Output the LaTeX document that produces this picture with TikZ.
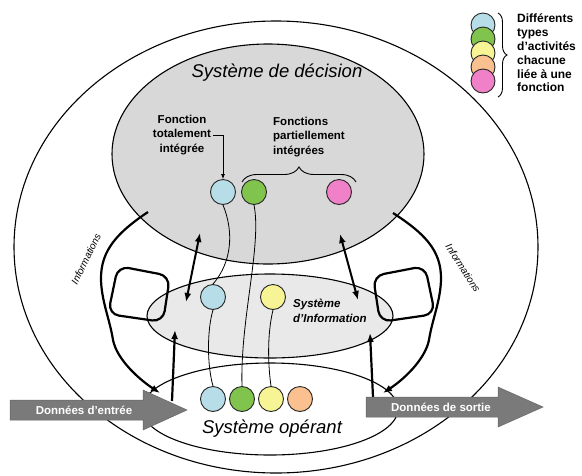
\documentclass[tikz,border=0pt]{standalone}
\usepackage{fontspec}
\setmainfont{Liberation Sans}
\usetikzlibrary{arrows.meta,decorations.pathreplacing,shapes.geometric}

\definecolor{decgray}{RGB}{216,216,216}
\definecolor{infogray}{RGB}{233,233,233}
\definecolor{cblue}{RGB}{183,222,232}
\definecolor{cgreen}{RGB}{128,196,78}
\definecolor{cyellow}{RGB}{247,244,150}
\definecolor{corange}{RGB}{250,192,143}
\definecolor{cpink}{RGB}{240,128,200}
\definecolor{flowgray}{RGB}{122,122,122}

\begin{document}
\begin{tikzpicture}[x=1pt,y=-1pt,
  ring/.style={draw=black, line width=1.1pt, ellipse, inner sep=0pt},
  act/.style={circle, draw=black!85, line width=0.9pt, minimum size=25pt, inner sep=0pt},
  lgd/.style={circle, draw=black!85, line width=0.9pt, minimum size=24pt, inner sep=0pt},
  link/.style={draw=black, line width=0.8pt},
  ptr/.style={draw=black, line width=0.8pt, -{Latex[length=5pt,width=4pt]}},
  flow/.style={draw=black, line width=2.2pt, -{Latex[length=9pt,width=7pt]}},
  biflow/.style={draw=black, line width=2pt, {Latex[length=9pt,width=7pt]}-{Latex[length=9pt,width=7pt]}},
  knot/.style={draw=black, line width=2.2pt, rounded corners=11pt},
  data/.style={fill=flowgray, draw=black!60, line width=0.5pt},
  datatxt/.style={font=\fontsize{11.5}{13}\selectfont\bfseries, text=white, inner sep=0pt},
  lbl/.style={font=\fontsize{11.5}{14.5}\selectfont\bfseries, inner sep=0pt},
  title/.style={font=\fontsize{18.5}{20}\selectfont\itshape, inner sep=0pt},
  side/.style={font=\fontsize{10}{12}\selectfont\itshape, inner sep=0pt},
]
\useasboundingbox (0,0) rectangle (582,475);

% the three nested systems inside the enterprise
\node[ring, fill=white, minimum width=524pt, minimum height=452pt] (ent) at (276,247) {};
\node[ring, fill=decgray, minimum width=312pt, minimum height=220pt] (dec) at (268,154) {};
\node[ring, fill=infogray, minimum width=246pt, minimum height=84pt] (inf) at (270,316) {};
\node[ring, fill=white, minimum width=256pt, minimum height=92pt] (ope) at (270,409) {};

\node[title] (tdec) at (277,73) {Système de décision};
\node[title] (tope) at (272,429) {Système opérant};
\node[lbl, font=\fontsize{11.5}{14.5}\selectfont\bfseries\itshape, align=left, anchor=west] (tinf) at (293,311) {Système\\d'Information};

% activities
\node[act, fill=cblue] (db) at (223,192) {};
\node[act, fill=cgreen] (dg) at (254,192) {};
\node[act, fill=cpink] (dp) at (339,192) {};
\node[act, fill=cblue] (ib) at (213,297) {};
\node[act, fill=cyellow] (iy) at (273,297) {};
\node[act, fill=cblue] (ob) at (213,399) {};
\node[act, fill=cgreen] (og) at (242,399) {};
\node[act, fill=cyellow] (oy) at (271,399) {};
\node[act, fill=corange] (oo) at (300,399) {};

% links between the same activity in each system
\draw[link] (db.south) .. controls (234,232) and (232,262) .. (ib.north);
\draw[link] (dg.south) .. controls (262,245) and (240,320) .. (og.north);
\draw[link] (ib.south) .. controls (207,330) and (207,365) .. (ob.north);
\draw[link] (iy.south) .. controls (267,335) and (268,365) .. (oy.north);

% labels of the decision system
\node[lbl, align=center] (ftot) at (182,135) {Fonction\\totalement\\intégrée};
\draw[ptr] ([xshift=2pt]ftot.east) -| (db.north);
\node[lbl, align=left, anchor=west] (fpar) at (273,137) {Fonctions\\partiellement\\intégrées};
\draw[line width=0.9pt, decorate, decoration={brace, amplitude=15pt}] (242,182) -- (356,182);

% information loops
\coordinate (L0) at (148,212);
\coordinate (L1) at (160,393);
\draw[flow] (L0) .. controls (118,232) and (101,250) .. (101,278)
  .. controls (101,300) and (110,320) .. (113,340)
  .. controls (117,360) and (140,380) .. (L1);
\draw[knot] (118,266) -- (170,276) -- (163,322) -- (108,314) -- cycle;

\coordinate (R0) at (393,213);
\coordinate (R1) at (383,393);
\draw[flow] (R0) .. controls (424,233) and (441,250) .. (441,278)
  .. controls (441,300) and (432,320) .. (429,340)
  .. controls (425,360) and (403,380) .. (R1);
\draw[knot] (425,266) -- (373,276) -- (380,322) -- (435,314) -- cycle;

\node[side, rotate=64] (infl) at (86,259) {Informations};
\node[side, rotate=-57] (infr) at (463,268) {Informations};

% exchanges between systems
\coordinate (BL0) at (200,233);
\coordinate (BL1) at (186,302);
\draw[biflow] (BL0) -- (BL1);
\coordinate (BR0) at (340,234);
\coordinate (BR1) at (358,300);
\draw[biflow] (BR0) -- (BR1);
\coordinate (UL0) at (172,401);
\coordinate (UL1) at (175,330);
\draw[flow] (UL0) -- (UL1);
\coordinate (UR0) at (373,397);
\coordinate (UR1) at (370,333);
\draw[flow] (UR0) -- (UR1);

% input and output data
\draw[data] (10,400) -- (143,400) -- (143,390) -- (187,410) -- (143,430) -- (143,420) -- (10,420) -- cycle;
\node[datatxt] (din) at (84,410) {Données d'entrée};
\draw[data] (366,397) -- (498,397) -- (498,387) -- (543,407) -- (498,427) -- (498,417) -- (366,417) -- cycle;
\node[datatxt] (dout) at (441,407) {Données de sortie};

% legend
\node[lgd, fill=cblue] (k1) at (483,25) {};
\node[lgd, fill=cgreen] (k2) at (483,39) {};
\node[lgd, fill=cyellow] (k3) at (483,53) {};
\node[lgd, fill=corange] (k4) at (483,67) {};
\node[lgd, fill=cpink] (k5) at (483,81) {};
\draw[line width=0.9pt, decorate, decoration={brace, amplitude=9pt}] (498,13) -- (498,97);
\node[lbl, font=\fontsize{12}{13.8}\selectfont\bfseries, align=left, anchor=west] (klbl) at (517,53) {Différents\\types\\d'activités\\chacune\\liée à une\\fonction};

\end{tikzpicture}
\end{document}
